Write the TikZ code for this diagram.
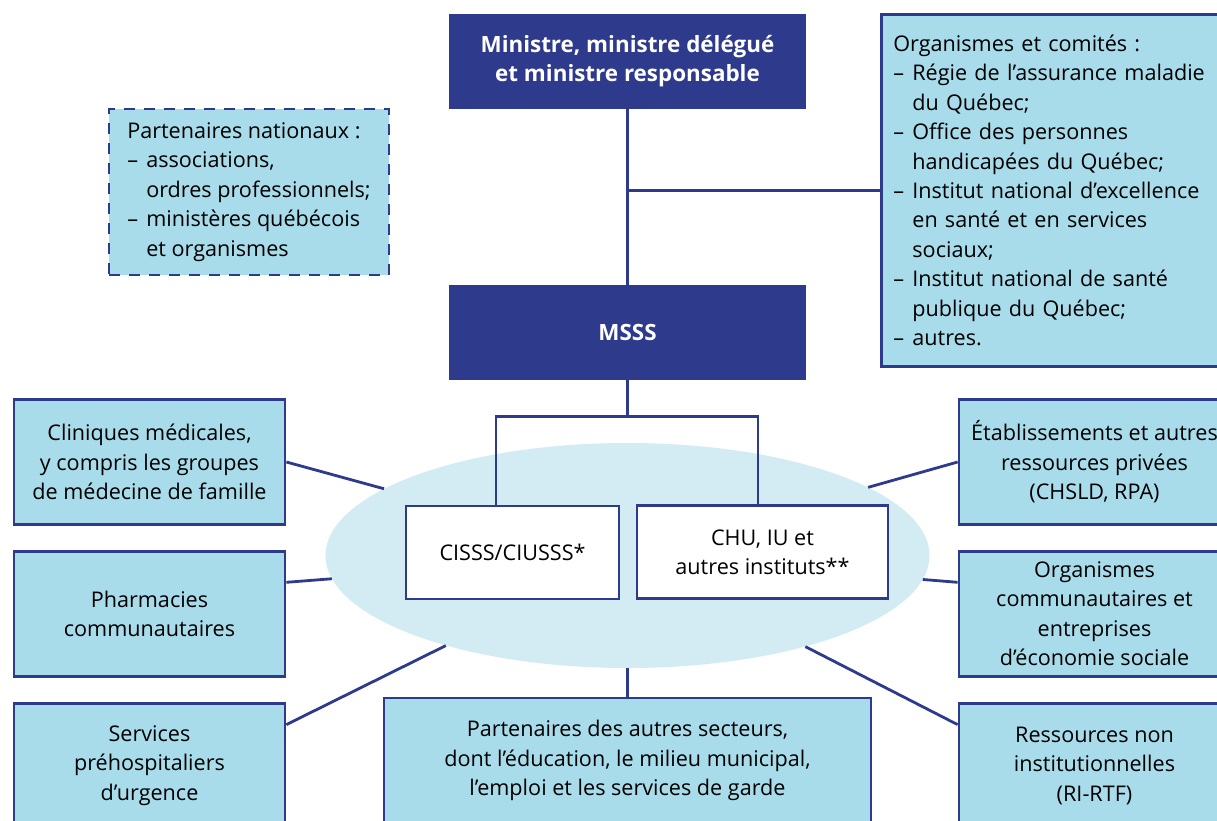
\documentclass[tikz,border=0pt]{standalone}
\usepackage{fontspec}
\setmainfont{Open Sans}
\usetikzlibrary{positioning,shapes.geometric}
\definecolor{msssblue}{HTML}{2E3A8C}
\definecolor{boxblue}{HTML}{A8DCEA}
\definecolor{hubblue}{HTML}{D3ECF3}
\newcommand{\tiret}{\makebox[19pt][l]{–}}
\newcommand{\retrait}{\hspace*{19pt}}
\tikzset{
  darkbox/.style={fill=msssblue,text=white,font=\bfseries\fontsize{22.4}{28.5}\selectfont,minimum width=357pt,minimum height=95pt,align=center},
  partbox/.style={draw=msssblue,line width=2.8pt,fill=boxblue,minimum width=271pt,minimum height=125pt,align=center,inner sep=0pt},
  unitbox/.style={draw=msssblue,line width=2.8pt,fill=white,minimum height=93pt,align=center},
  link/.style={draw=msssblue,line width=2.8pt},
}
\begin{document}
\begin{tikzpicture}[x=1pt,y=-1pt,font=\fontsize{21.6}{29.4}\selectfont]
\clip (0,0) rectangle (1217,820);
\fill[white] (0,0) rectangle (1217,820);
% tutelle
\node[darkbox] (minis) at (627.5,61) {Ministre, ministre délégué\\et ministre responsable};
\node[darkbox] (msss) at (627.5,332.5) {MSSS};
\node[draw=msssblue,line width=2.8pt,fill=boxblue,anchor=north west,text width=330pt,inner xsep=12pt,minimum height=352pt,align=left] (orgs) at (880,13)
  {Organismes et comités :\\
   \tiret Régie de l’assurance maladie\\\retrait du Québec;\\
   \tiret Office des personnes\\\retrait handicapées du Québec;\\
   \tiret Institut national d’excellence\\\retrait en santé et en services\\\retrait sociaux;\\
   \tiret Institut national de santé\\\retrait publique du Québec;\\
   \tiret autres.};
\node[draw=msssblue,line width=2.8pt,dash pattern=on 11pt off 9pt,fill=boxblue,minimum width=280pt,minimum height=166pt,align=left] (natio) at (249,192)
  {Partenaires nationaux :\\
   \tiret associations,\\\retrait ordres professionnels;\\
   \tiret ministères québécois\\\retrait et organismes};
% reseau
\node[ellipse,fill=hubblue,minimum width=604pt,minimum height=225pt] (hub) at (627.5,555.5) {};
\node[unitbox,minimum width=213pt] (cisss) at (512.5,552.5) {CISSS/CIUSSS*};
\node[unitbox,minimum width=251pt] (chu) at (762.5,552) {CHU, IU et\\autres instituts**};
% partenaires
\node[partbox] (clin) at (149.5,462) {Cliniques médicales,\\y compris les groupes\\de médecine de famille};
\node[partbox,below=24pt of clin] (pharm) {Pharmacies\\communautaires};
\node[partbox,below=24pt of pharm] (preh) {Services\\préhospitaliers\\d’urgence};
\node[partbox] (etab) at (1094.5,462) {Établissements et autres\\ressources privées\\(CHSLD, RPA)};
\node[partbox,below=24pt of etab] (comm) {Organismes\\communautaires et\\entreprises\\d’économie sociale};
\node[partbox,below=24pt of comm] (rint) {Ressources non\\institutionnelles\\(RI-RTF)};
\node[partbox,minimum width=487pt] (sect) at (627.5,760.5) {Partenaires des autres secteurs,\\dont l’éducation, le milieu municipal,\\l’emploi et les services de garde};
% liens
\draw[link] (minis) -- (msss);
\draw[link] (minis.south |- orgs.west) -- (orgs.west);
\draw[link] (msss.south) -- ++(0,36) coordinate (fork);
\draw[link] ([xshift=-16.5pt]cisss.north) |- (fork) -| ([xshift=-4.5pt]chu.north);
\draw[link] (clin.east) -- (hub);
\draw[link] ([yshift=31.5pt]pharm.east) -- (hub);
\draw[link] ([yshift=41pt]preh.east) -- (hub);
\draw[link] (etab.west) -- (hub);
\draw[link] ([yshift=31.5pt]comm.west) -- (hub);
\draw[link] ([yshift=41pt]rint.west) -- (hub);
\draw[link] (sect) -- (hub);
\end{tikzpicture}
\end{document}
